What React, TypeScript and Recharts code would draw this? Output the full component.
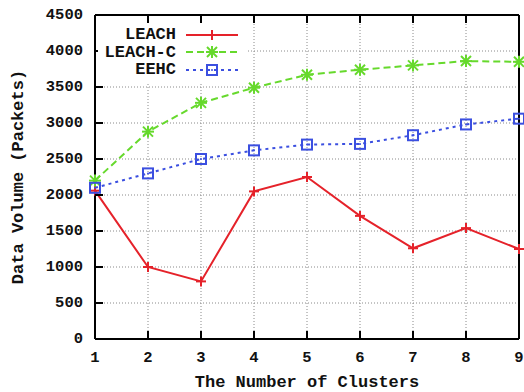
import React from "react";
import {
  LineChart,
  Line,
  XAxis,
  YAxis,
  CartesianGrid,
  Legend,
} from "recharts";

// Cluster counts on the x axis
const clusters = [1, 2, 3, 4, 5, 6, 7, 8, 9];
// Data volume (packets) delivered per protocol
const leach = [2060, 1000, 800, 2050, 2250, 1710, 1260, 1540, 1250];
const leachC = [2200, 2880, 3280, 3490, 3670, 3740, 3800, 3860, 3850];
const eehc = [2100, 2300, 2500, 2620, 2700, 2710, 2830, 2980, 3060];
const yTicks = [0, 500, 1000, 1500, 2000, 2500, 3000, 3500, 4000, 4500];

const data = clusters.map((c, i) => ({
  clusters: c,
  LEACH: leach[i],
  "LEACH-C": leachC[i],
  EEHC: eehc[i],
}));

const FONT = "'Liberation Mono', 'DejaVu Sans Mono', monospace";
const RED = "#e5222a";
const GREEN = "#66d92c";
const BLUE = "#3b4fe0";
const GRID = "#8a8a8a";

type Marker = "plus" | "star" | "square";

const series: { key: string; color: string; dash?: string; marker: Marker }[] = [
  { key: "LEACH", color: RED, marker: "plus" },
  { key: "LEACH-C", color: GREEN, dash: "7 4", marker: "star" },
  { key: "EEHC", color: BLUE, dash: "3 4", marker: "square" },
];

function MarkerShape({ cx, cy, type, color }: { cx: number; cy: number; type: Marker; color: string }) {
  if (type === "plus") {
    return (
      <g stroke={color} strokeWidth={2}>
        <line x1={cx - 5} y1={cy} x2={cx + 5} y2={cy} />
        <line x1={cx} y1={cy - 5} x2={cx} y2={cy + 5} />
      </g>
    );
  }
  if (type === "star") {
    return (
      <g stroke={color} strokeWidth={2}>
        <line x1={cx - 6} y1={cy} x2={cx + 6} y2={cy} />
        <line x1={cx} y1={cy - 6} x2={cx} y2={cy + 6} />
        <line x1={cx - 5} y1={cy - 5} x2={cx + 5} y2={cy + 5} />
        <line x1={cx - 5} y1={cy + 5} x2={cx + 5} y2={cy - 5} />
      </g>
    );
  }
  return (
    <g>
      <rect x={cx - 5} y={cy - 5} width={10} height={10} fill="none" stroke={color} strokeWidth={2} />
      <circle cx={cx} cy={cy} r={1} fill={color} />
    </g>
  );
}

const tickText = { fontFamily: FONT, fontWeight: 700, fontSize: 15.5, fill: "#111" };

const LeftTick = (props: any) => {
  const { x, y, payload } = props;
  return (
    <g>
      <line x1={x + 12} y1={y} x2={x + 20} y2={y} stroke="#000" strokeWidth={2} />
      <text x={x} y={y} textAnchor="end" dominantBaseline="central" style={tickText}>
        {payload.value}
      </text>
    </g>
  );
};

const RightTick = (props: any) => {
  const { x, y } = props;
  return <line x1={x - 8} y1={y} x2={x} y2={y} stroke="#000" strokeWidth={2} />;
};

const BottomTick = (props: any) => {
  const { x, y, payload } = props;
  return (
    <g>
      <line x1={x} y1={y - 8} x2={x} y2={y} stroke="#000" strokeWidth={2} />
      <text x={x} y={y + 23} textAnchor="middle" style={tickText}>
        {payload.value}
      </text>
    </g>
  );
};

const TopTick = (props: any) => {
  const { x, y } = props;
  return <line x1={x} y1={y} x2={x} y2={y + 8} stroke="#000" strokeWidth={2} />;
};

const LegendBox = () => (
  <div style={{ background: "#fff", padding: "2px 0 4px 0" }}>
    {series.map((s) => (
      <div key={s.key} style={{ display: "flex", alignItems: "center", height: 17.5 }}>
        <span
          style={{
            width: 78,
            textAlign: "right",
            fontFamily: FONT,
            fontWeight: 700,
            fontSize: 17,
            color: "#111",
            lineHeight: "17px",
          }}
        >
          {s.key}
        </span>
        <svg width={60} height={16} style={{ marginLeft: 10 }}>
          <line x1={0} y1={8} x2={52} y2={8} stroke={s.color} strokeWidth={2} strokeDasharray={s.dash} />
          <MarkerShape cx={26} cy={8} type={s.marker} color={s.color} />
        </svg>
      </div>
    ))}
  </div>
);

export default function App() {
  return (
    <div style={{ position: "absolute", left: 0, top: 0, background: "#fff" }}>
      <LineChart width={524} height={392} data={data} margin={{ top: 0, right: 0, bottom: 0, left: 0 }}>
        <CartesianGrid
          xAxisId="bottom"
          yAxisId="left"
          stroke={GRID}
          strokeDasharray="1 2"
          strokeWidth={1}
        />
        <XAxis
          xAxisId="bottom"
          dataKey="clusters"
          type="number"
          domain={[1, 9]}
          ticks={clusters}
          interval={0}
          height={53}
          tickSize={0}
          tickMargin={0}
          tickLine={false}
          axisLine={{ stroke: "#000", strokeWidth: 2 }}
          tick={<BottomTick />}
          label={{
            value: "The Number of Clusters",
            position: "insideBottom",
            offset: 5,
            style: { fontFamily: FONT, fontWeight: 700, fontSize: 17, fill: "#111" },
          }}
        />
        <XAxis
          xAxisId="top"
          orientation="top"
          dataKey="clusters"
          type="number"
          domain={[1, 9]}
          ticks={clusters}
          interval={0}
          height={15}
          tickSize={0}
          tickMargin={0}
          tickLine={false}
          axisLine={{ stroke: "#000", strokeWidth: 2 }}
          tick={<TopTick />}
        />
        <YAxis
          yAxisId="left"
          type="number"
          domain={[0, 4500]}
          ticks={yTicks}
          interval={0}
          width={95}
          tickSize={0}
          tickMargin={12}
          tickLine={false}
          axisLine={{ stroke: "#000", strokeWidth: 2 }}
          tick={<LeftTick />}
          label={{
            value: "Data Volume (Packets)",
            content: (p: any) => {
              const vb = p.viewBox;
              const cx = vb.x + 18;
              const cy = vb.y + vb.height / 2;
              return (
                <text
                  x={cx}
                  y={cy}
                  transform={`rotate(-90 ${cx} ${cy})`}
                  textAnchor="middle"
                  dominantBaseline="central"
                  style={{ fontFamily: FONT, fontWeight: 700, fontSize: 17, fill: "#111" }}
                >
                  Data Volume (Packets)
                </text>
              );
            },
          }}
        />
        <YAxis
          yAxisId="right"
          orientation="right"
          type="number"
          domain={[0, 4500]}
          ticks={yTicks}
          interval={0}
          width={5}
          tickSize={0}
          tickMargin={0}
          tickLine={false}
          axisLine={{ stroke: "#000", strokeWidth: 2 }}
          tick={<RightTick />}
        />
        {series.map((s) => (
          <Line
            key={s.key}
            xAxisId="bottom"
            yAxisId="left"
            dataKey={s.key}
            type="linear"
            stroke={s.color}
            strokeWidth={2}
            strokeDasharray={s.dash}
            isAnimationActive={false}
            dot={(p: any) => (
              <MarkerShape key={`${s.key}-${p.index}`} cx={p.cx} cy={p.cy} type={s.marker} color={s.color} />
            )}
          />
        ))}
        <Legend
          layout="vertical"
          align="center"
          verticalAlign="middle"
          content={<LegendBox />}
          wrapperStyle={{ position: "absolute", left: 98, top: 24, width: 150 }}
        />
      </LineChart>
    </div>
  );
}
